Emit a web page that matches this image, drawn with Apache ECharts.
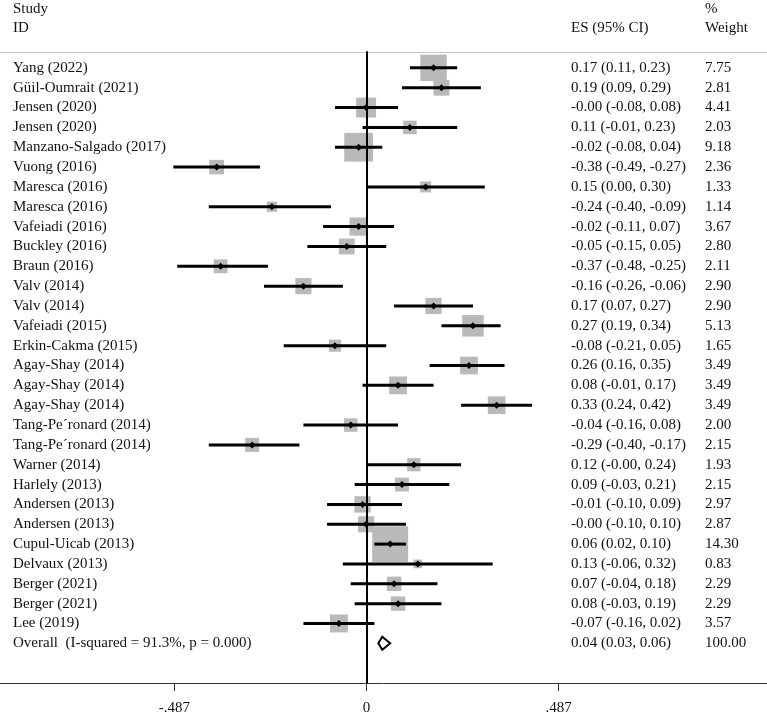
<!DOCTYPE html>
<html>
<head>
<meta charset="utf-8">
<script src="https://cdn.jsdelivr.net/npm/echarts@6/dist/echarts.min.js"></script>
<style>
  html, body { margin: 0; padding: 0; background: #fff; }
  #main { width: 767px; height: 716px; }
</style>
</head>
<body>
<div id="main"></div>
<script>
// study rows, top to bottom
var studies = [
  'Yang (2022)', 'Güil-Oumrait (2021)', 'Jensen (2020)', 'Jensen (2020)',
  'Manzano-Salgado (2017)', 'Vuong (2016)', 'Maresca (2016)', 'Maresca (2016)',
  'Vafeiadi (2016)', 'Buckley (2016)', 'Braun (2016)', 'Valv (2014)',
  'Valv (2014)', 'Vafeiadi (2015)', 'Erkin-Cakma (2015)', 'Agay-Shay (2014)',
  'Agay-Shay (2014)', 'Agay-Shay (2014)', 'Tang-Pe\u00B4ronard (2014)', 'Tang-Pe\u00B4ronard (2014)',
  'Warner (2014)', 'Harlely (2013)', 'Andersen (2013)', 'Andersen (2013)',
  'Cupul-Uicab (2013)', 'Delvaux (2013)', 'Berger (2021)', 'Berger (2021)',
  'Lee (2019)'
];
var es = [0.17, 0.19, -0.001, 0.11, -0.02, -0.38, 0.15, -0.24, -0.02, -0.05, -0.37, -0.16,
  0.17, 0.27, -0.08, 0.26, 0.08, 0.33, -0.04, -0.29, 0.12, 0.09, -0.01, -0.001,
  0.06, 0.13, 0.07, 0.08, -0.07];
var lower = [0.11, 0.09, -0.08, -0.01, -0.08, -0.49, 0.00, -0.40, -0.11, -0.15, -0.48, -0.26,
  0.07, 0.19, -0.21, 0.16, -0.01, 0.24, -0.16, -0.40, -0.001, -0.03, -0.10, -0.10,
  0.02, -0.06, -0.04, -0.03, -0.16];
var upper = [0.23, 0.29, 0.08, 0.23, 0.04, -0.27, 0.30, -0.09, 0.07, 0.05, -0.25, -0.06,
  0.27, 0.34, 0.05, 0.35, 0.17, 0.42, 0.08, -0.17, 0.24, 0.21, 0.09, 0.10,
  0.10, 0.32, 0.18, 0.19, 0.02];
var weights = [7.75, 2.81, 4.41, 2.03, 9.18, 2.36, 1.33, 1.14, 3.67, 2.80, 2.11, 2.90,
  2.90, 5.13, 1.65, 3.49, 3.49, 3.49, 2.00, 2.15, 1.93, 2.15, 2.97, 2.87,
  14.30, 0.83, 2.29, 2.29, 3.57];

var overallLabel = 'Overall  (I-squared = 91.3%, p = 0.000)';
var overall = { es: 0.04, lower: 0.03, upper: 0.06, weight: 100.00 };

var tickValues = [-0.487, 0, 0.487];

var FONT = 'Liberation Serif';
var FS = 15;
var TXT = '#111';

function fmt2(v) { return v.toFixed(2); }
function esText(e, l, u) { return fmt2(e) + ' (' + fmt2(l) + ', ' + fmt2(u) + ')'; }
function tickFmt(v) {
  if (v === 0) return '0';
  return (v < 0 ? '-' : '') + Math.abs(v).toFixed(3).replace(/^0/, '');
}

// rows: [es, row, lower, upper, weight]
var rowData = [];
for (var i = 0; i < studies.length; i++) {
  rowData.push([es[i], i, lower[i], upper[i], weights[i]]);
}
var overallRow = studies.length;

var textData = [];
for (var j = 0; j < studies.length; j++) {
  textData.push([0, j, studies[j], esText(es[j], lower[j], upper[j]), weights[j].toFixed(2)]);
}
textData.push([0, overallRow, overallLabel, esText(overall.es, overall.lower, overall.upper), overall.weight.toFixed(2)]);

var myChart = echarts.init(document.getElementById('main'));

var option = {
  animation: false,
  backgroundColor: '#fff',
  grid: { left: 0, right: 0, top: 52, bottom: 32 },
  xAxis: [{
    type: 'value',
    min: -0.9295,
    max: 1.0157,
    position: 'bottom',
    axisLine: { onZero: false, lineStyle: { color: '#333', width: 1 } },
    axisTick: { show: true, length: 8, customValues: tickValues, lineStyle: { color: '#333' } },
    axisLabel: {
      customValues: tickValues,
      formatter: tickFmt,
      margin: 18,
      fontFamily: FONT, fontSize: FS, color: TXT
    },
    splitLine: { show: false }
  }, {
    type: 'value',
    min: -0.9295,
    max: 1.0157,
    position: 'top',
    axisLine: { onZero: false, lineStyle: { color: '#c4c4c4', width: 1 } },
    axisTick: { show: false },
    axisLabel: { show: false },
    splitLine: { show: false }
  }],
  yAxis: {
    type: 'value',
    inverse: true,
    min: -0.8,
    max: 31,
    z: 10,
    axisLine: { show: true, onZero: true, onZeroAxisIndex: 0, lineStyle: { color: '#000', width: 2 } },
    axisTick: { show: false },
    axisLabel: { show: false },
    splitLine: { show: false }
  },
  graphic: [
    { type: 'text', left: 13, top: 2, style: { text: 'Study', font: FS + 'px "' + FONT + '"', fill: TXT } },
    { type: 'text', left: 13, top: 21, style: { text: 'ID', font: FS + 'px "' + FONT + '"', fill: TXT } },
    { type: 'text', left: 571, top: 21, style: { text: 'ES (95% CI)', font: FS + 'px "' + FONT + '"', fill: TXT } },
    { type: 'text', left: 705, top: 2, style: { text: '%', font: FS + 'px "' + FONT + '"', fill: TXT } },
    { type: 'text', left: 705, top: 21, style: { text: 'Weight', font: FS + 'px "' + FONT + '"', fill: TXT } }
  ],
  series: [{
    // gray weight boxes
    type: 'custom',
    z: 2,
    clip: false,
    encode: { x: [0, 2, 3], y: 1 },
    data: rowData,
    renderItem: function (params, api) {
      var c = api.coord([api.value(0), api.value(1)]);
      var s = 9.5 * Math.sqrt(api.value(4));
      return {
        type: 'rect',
        shape: { x: c[0] - s / 2, y: c[1] - s / 2, width: s, height: s },
        style: { fill: '#b9b9b9' }
      };
    }
  }, {
    // CI lines and point markers
    type: 'custom',
    z: 3,
    clip: false,
    encode: { x: [0, 2, 3], y: 1 },
    data: rowData,
    renderItem: function (params, api) {
      var c = api.coord([api.value(0), api.value(1)]);
      var a = api.coord([api.value(2), api.value(1)]);
      var b = api.coord([api.value(3), api.value(1)]);
      var d = 3.5;
      return {
        type: 'group',
        children: [{
          type: 'line',
          shape: { x1: a[0], y1: a[1], x2: b[0], y2: b[1] },
          style: { stroke: '#000', lineWidth: 3 }
        }, {
          type: 'polygon',
          shape: { points: [[c[0] - d, c[1]], [c[0], c[1] - d], [c[0] + d, c[1]], [c[0], c[1] + d]] },
          style: { fill: '#000' }
        }]
      };
    }
  }, {
    // overall diamond
    type: 'custom',
    z: 3,
    clip: false,
    encode: { x: [0, 2, 3], y: 1 },
    data: [[overall.es, overallRow, overall.lower, overall.upper]],
    renderItem: function (params, api) {
      var c = api.coord([api.value(0), api.value(1)]);
      var a = api.coord([api.value(2), api.value(1)]);
      var b = api.coord([api.value(3), api.value(1)]);
      var h = 6.5;
      return {
        type: 'polygon',
        shape: { points: [[a[0], c[1]], [c[0], c[1] - h], [b[0], c[1]], [c[0], c[1] + h]] },
        style: { fill: '#fff', stroke: '#000', lineWidth: 2 }
      };
    }
  }, {
    // text columns
    type: 'custom',
    z: 4,
    clip: false,
    encode: { x: 0, y: 1 },
    data: textData,
    renderItem: function (params, api) {
      var y = api.coord([0, api.value(1)])[1];
      var item = textData[params.dataIndex];
      var font = FS + 'px "' + FONT + '"';
      return {
        type: 'group',
        children: [
          { type: 'text', x: 13, y: y, style: { text: item[2], font: font, fill: TXT, verticalAlign: 'middle' } },
          { type: 'text', x: 571, y: y, style: { text: item[3], font: font, fill: TXT, verticalAlign: 'middle' } },
          { type: 'text', x: 705, y: y, style: { text: item[4], font: font, fill: TXT, verticalAlign: 'middle' } }
        ]
      };
    }
  }]
};

myChart.setOption(option);
</script>
</body>
</html>
